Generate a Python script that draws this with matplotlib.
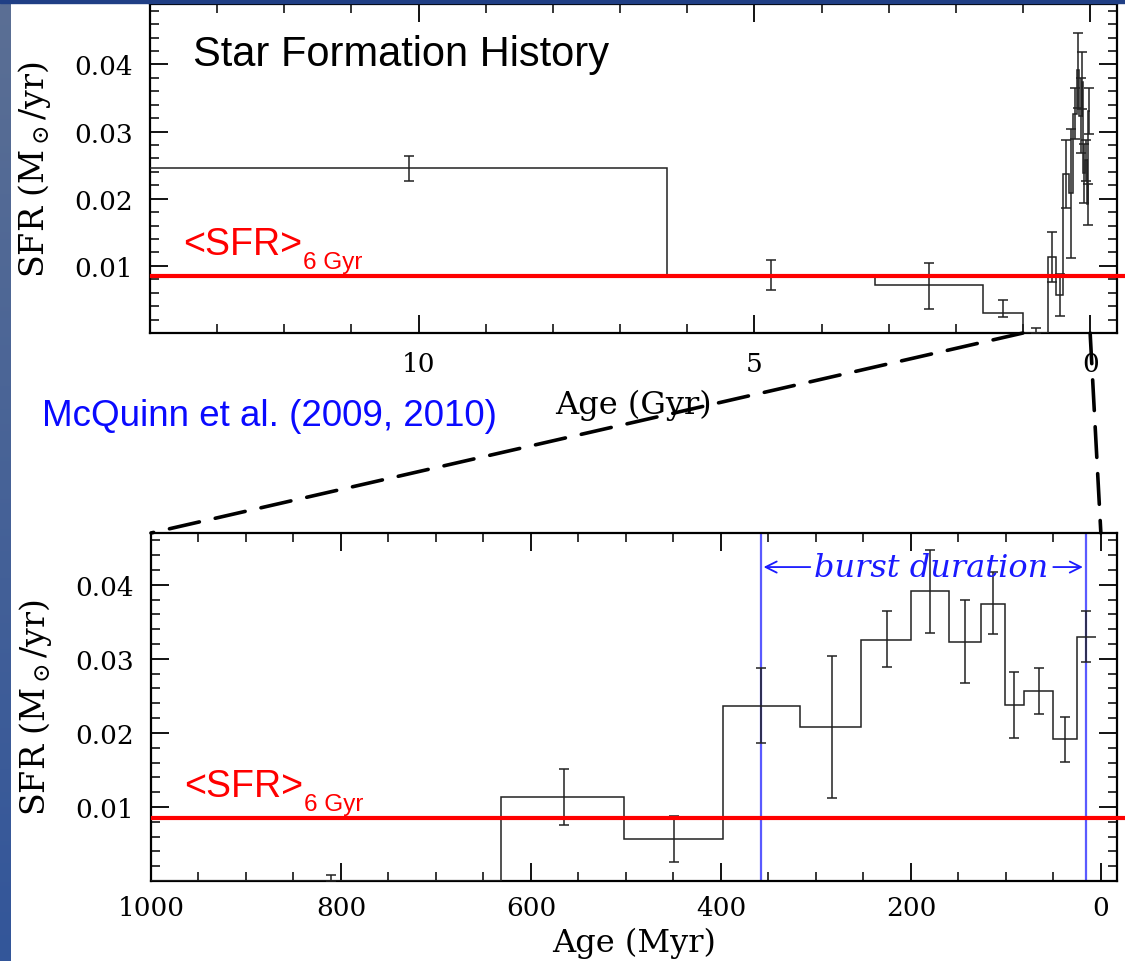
import numpy as np
import matplotlib.pyplot as plt
from matplotlib.patches import ConnectionPatch, Rectangle
from matplotlib.ticker import MultipleLocator

plt.rcParams["mathtext.fontset"] = "dejavuserif"

# Ancient star formation, coarse bins (Gyr)
old_edges = [14.0, 6.3, 3.2, 1.6, 1.0]
old_sfr = [0.0246, 0.0087, 0.0071, 0.0030]
old_err_age = [10.15, 4.75, 2.4, 1.3]
old_err_lo = [0.0226, 0.0064, 0.0036, 0.0024]
old_err_hi = [0.0264, 0.0108, 0.0104, 0.0049]

# Last Gyr, fine bins (Myr)
recent_edges = [1000, 631, 502, 398, 317, 252, 200, 160, 126, 101, 81, 50, 25, 5]
recent_sfr = [0.0, 0.0113, 0.0057, 0.0237, 0.0208, 0.0326, 0.0392,
              0.0323, 0.0374, 0.0238, 0.0257, 0.0192, 0.0330]
recent_err_age = [811, 565, 449, 358, 283, 225, 180, 143, 114, 91, 65, 38, 16]
recent_err_lo = [0.0, 0.0076, 0.0026, 0.0186, 0.0112, 0.0289, 0.0335,
                 0.0268, 0.0334, 0.0193, 0.0226, 0.0161, 0.0296]
recent_err_hi = [0.0008, 0.0151, 0.0088, 0.0288, 0.0304, 0.0365, 0.0447,
                 0.0380, 0.0418, 0.0282, 0.0288, 0.0222, 0.0365]

mean_sfr_6gyr = 0.0085
burst_start, burst_end = 358, 16  # Myr

W, H = 1125, 962
fig = plt.figure(figsize=(W / 100, H / 100), dpi=100)


def px(x, y):
    return x / W, 1 - y / H


# slide frame: gradient strip on the left, dark band on top
strip = fig.add_axes([0, 0, 11 / W, 1])
grad = np.linspace(0, 1, 256)[:, None]
top_c = np.array([0x5b, 0x6f, 0x94]) / 255
bot_c = np.array([0x33, 0x56, 0x9a]) / 255
strip.imshow(top_c + grad[..., None] * (bot_c - top_c), aspect="auto")
strip.set_axis_off()
fig.patches.append(Rectangle((0, 1 - 4 / H), 1, 4 / H, transform=fig.transFigure,
                             color="#203f85", zorder=0))

ax_top = fig.add_axes([150 / W, 1 - 334 / H, 967 / W, 329 / H])
ax_bot = fig.add_axes([151 / W, 1 - 882 / H, 966 / W, 348 / H])


def draw_sfh(ax, edges, sfr, err_age, lo, hi):
    sfr = np.asarray(sfr)
    ax.stairs(sfr, edges, baseline=None, color="#222222", lw=1.1, zorder=3)
    yerr = [sfr - np.asarray(lo), np.asarray(hi) - sfr]
    ax.errorbar(err_age, sfr, yerr=yerr, fmt="none", ecolor="#222222",
                elinewidth=1.1, capsize=3.6, capthick=1.1, zorder=3)
    ax.plot([0.002, 1.01], [mean_sfr_6gyr] * 2, transform=ax.get_yaxis_transform(),
            color="#ff0000", lw=3, clip_on=False, zorder=4)


def style_axes(ax):
    ax.tick_params(which="both", direction="in", top=True, right=True,
                   labelsize=19, labelfontfamily="DejaVu Serif")
    ax.tick_params(which="major", length=13, width=1.3)
    ax.tick_params(which="minor", length=6.5, width=1.1)
    ax.tick_params(axis="y", pad=12)
    ax.set_yticks([0.01, 0.02, 0.03, 0.04], ["0.01", "0.02", "0.03", "0.04"])
    ax.yaxis.set_minor_locator(MultipleLocator(0.002))
    for s in ax.spines.values():
        s.set_linewidth(1.6)
    ax.set_ylabel(r"SFR (M$_\odot$/yr)", family="DejaVu Serif", fontsize=24)
    ax.yaxis.set_label_coords(-0.100, 0.5)


# top: full history in Gyr
all_edges = old_edges + [e / 1000 for e in recent_edges[1:]]
all_sfr = old_sfr + recent_sfr
all_err_age = old_err_age + [a / 1000 for a in recent_err_age]
draw_sfh(ax_top, all_edges, all_sfr, all_err_age,
         old_err_lo + recent_err_lo, old_err_hi + recent_err_hi)
ax_top.set_xlim(14, -0.4)
ax_top.set_ylim(0, 0.049)
style_axes(ax_top)
ax_top.set_xticks([10, 5, 0], ["10", "5", "0"])
ax_top.xaxis.set_minor_locator(MultipleLocator(1))
ax_top.tick_params(axis="x", pad=13)
ax_top.set_xlabel("Age (Gyr)", family="DejaVu Serif", fontsize=23, labelpad=9)

# bottom: last Gyr in Myr
draw_sfh(ax_bot, recent_edges, recent_sfr, recent_err_age, recent_err_lo, recent_err_hi)
ax_bot.set_xlim(1000, -17)
ax_bot.set_ylim(0, 0.047)
style_axes(ax_bot)
ax_bot.xaxis.set_major_locator(MultipleLocator(200))
ax_bot.xaxis.set_minor_locator(MultipleLocator(50))
ax_bot.tick_params(axis="x", pad=10)
ax_bot.set_xlabel("Age (Myr)", family="DejaVu Serif", fontsize=23, labelpad=5)

# burst window
for age in (burst_start, burst_end):
    ax_bot.axvline(age, color="#5a5aff", lw=1.6, zorder=2)
y_arrow = 0.0424
ax_bot.text(179, y_arrow, "burst duration", color="#1a1aff", fontsize=23,
            family="DejaVu Serif", style="italic", ha="center", va="center", zorder=5)
arrow = dict(arrowstyle="->", color="#1a1aff", lw=1.3, mutation_scale=20)
ax_bot.annotate("", xy=(burst_start, y_arrow), xytext=(303, y_arrow), arrowprops=arrow)
ax_bot.annotate("", xy=(burst_end, y_arrow), xytext=(53, y_arrow), arrowprops=arrow)

# dashed zoom connectors between the panels
for x_gyr, x_myr in ((old_edges[-1], recent_edges[0]), (0, 0)):
    con = ConnectionPatch(xyA=(x_gyr, 0), coordsA=ax_top.transData,
                          xyB=(x_myr, ax_bot.get_ylim()[1]), coordsB=ax_bot.transData,
                          color="black", lw=2.6, linestyle=(0, (8.5, 4.5)), zorder=6)
    fig.add_artist(con)

# slide annotations
fig.text(*px(193, 66), "Star Formation History", family="Liberation Sans",
         fontsize=30, va="baseline")
fig.text(*px(42, 426), "McQuinn et al. (2009, 2010)", family="Liberation Sans",
         fontsize=26.5, color="#0a0aff", va="baseline")
for ax, (x0, y0) in ((ax_top, (183, 255)), (ax_bot, (184, 797))):
    t = fig.text(*px(x0, y0), "<SFR>", family="Liberation Sans", fontsize=27,
                 color="#ff0000", va="baseline")
    ax.annotate("6 Gyr", xy=(1, 0), xycoords=t, xytext=(1, -6),
                textcoords="offset pixels", family="Liberation Sans",
                fontsize=17.5, color="#ff0000", va="baseline")

fig.savefig("out.png", dpi=100)
